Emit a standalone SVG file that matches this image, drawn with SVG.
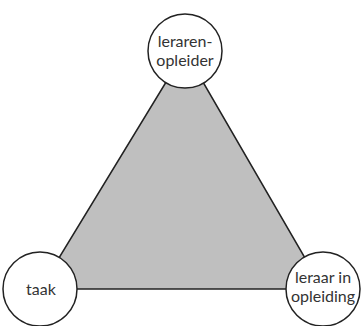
<svg xmlns="http://www.w3.org/2000/svg" width="361" height="326" viewBox="0 0 361 326">
<style>
.node circle{fill:#fff;stroke:#222;stroke-width:1.5}
.node text{font-family:Lato,"Open Sans",sans-serif;font-size:16px;fill:#333;text-anchor:middle}
.tri{fill:#bfbfbf;stroke:#222;stroke-width:1.5}
</style>
<g id="connectors">
<polygon class="tri" points="185,51 40,289 323,289"/>
</g>
<g id="node-lerarenopleider" class="node">
<circle cx="185" cy="51" r="37"/>
<text x="185" y="47">leraren-</text>
<text x="185" y="66">opleider</text>
</g>
<g id="node-taak" class="node">
<circle cx="40" cy="289" r="37"/>
<text x="41" y="295">taak</text>
</g>
<g id="node-leraar" class="node">
<circle cx="323" cy="289" r="37"/>
<text x="323" y="283">leraar in</text>
<text x="323" y="302">opleiding</text>
</g>
</svg>
